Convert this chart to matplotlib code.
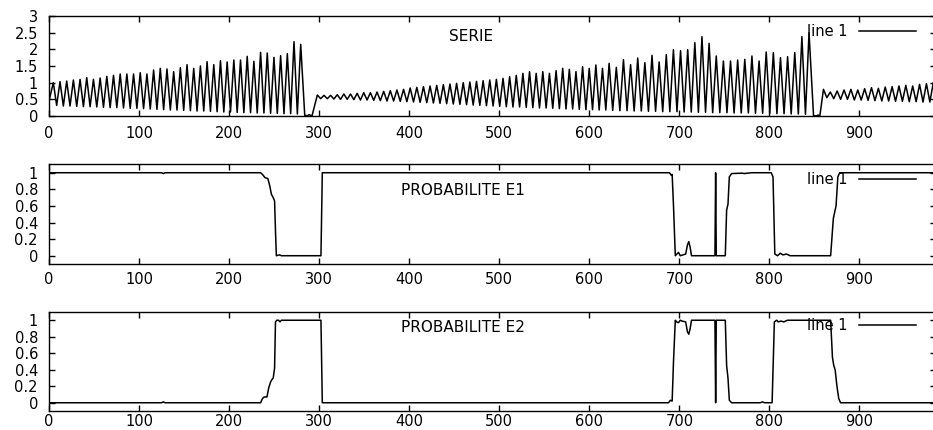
"""Three stacked panels: the observed series and the two state probabilities."""
import numpy as np
import matplotlib
matplotlib.use("Agg")
import matplotlib.pyplot as plt  # noqa: E402

plt.rcParams["font.family"] = ["DejaVu Sans"]
plt.rcParams["font.size"] = 10.5

X_MAX = 985

# --- SERIE: peak / trough levels of each oscillation, per regime ---
start_val = 0.45
seg1_span = (4.8, 279.5)
seg1_peaks = [1.00, 1.03, 1.05, 1.08, 1.10, 1.15, 1.10, 1.14, 1.19, 1.22,
              1.26, 1.26, 1.26, 1.30, 1.26, 1.38, 1.43, 1.41, 1.33, 1.45,
              1.54, 1.43, 1.50, 1.63, 1.54, 1.66, 1.62, 1.68, 1.68, 1.79,
              1.64, 1.91, 1.89, 1.76, 1.81, 1.87, 2.23, 2.15]
seg1_troughs = [0.32, 0.30, 0.30, 0.29, 0.28, 0.28, 0.27, 0.26, 0.25, 0.25,
                0.24, 0.23, 0.23, 0.22, 0.21, 0.20, 0.19, 0.18, 0.18, 0.17,
                0.16, 0.15, 0.15, 0.14, 0.13, 0.12, 0.12, 0.11, 0.10, 0.10,
                0.09, 0.09, 0.08, 0.08, 0.07, 0.07, 0.06]
gap1_x = [284, 287, 289, 292]
gap1_y = [0.02, 0.01, 0.04, 0.0]

seg2_span = (298, 622)
seg2_peaks = [0.63, 0.62, 0.62, 0.64, 0.66, 0.66, 0.68, 0.70, 0.70, 0.72,
              0.74, 0.76, 0.78, 0.80, 0.84, 0.86, 0.88, 0.90, 0.92, 0.94,
              0.96, 0.98, 1.00, 1.02, 1.04, 1.06, 1.08, 1.10, 1.13, 1.18,
              1.22, 1.28, 1.33, 1.28, 1.33, 1.28, 1.36, 1.43, 1.40, 1.33,
              1.48, 1.43, 1.53, 1.43, 1.58]
seg2_troughs = [0.52, 0.52, 0.51, 0.50, 0.50, 0.49, 0.48, 0.48, 0.47, 0.46,
                0.45, 0.45, 0.44, 0.43, 0.42, 0.41, 0.40, 0.39, 0.38, 0.37,
                0.36, 0.35, 0.34, 0.33, 0.32, 0.31, 0.30, 0.29, 0.28, 0.27,
                0.27, 0.26, 0.25, 0.24, 0.24, 0.23, 0.22, 0.21, 0.21, 0.20,
                0.19, 0.19, 0.18, 0.18]
gap2_x = [626]
gap2_y = [0.17]

seg3_span = (630, 844)
seg3_peaks = [1.46, 1.69, 1.54, 1.74, 1.60, 1.82, 1.62, 1.84, 1.99, 1.96,
              1.99, 2.20, 2.38, 2.18, 1.80, 1.65, 1.65, 1.68, 1.70, 1.80,
              1.65, 1.92, 1.90, 1.75, 1.78, 1.90, 2.38, 2.50]
seg3_troughs = [0.16, 0.16, 0.15, 0.15, 0.14, 0.14, 0.13, 0.13, 0.13, 0.12,
                0.12, 0.11, 0.11, 0.10, 0.10, 0.10, 0.09, 0.09, 0.09, 0.08,
                0.08, 0.08, 0.07, 0.07, 0.06, 0.06, 0.05]
gap3_x = [849, 852, 854, 856]
gap3_y = [0.01, 0.0, 0.03, 0.0]

seg4_span = (860, 982)
seg4_peaks = [0.80, 0.72, 0.75, 0.78, 0.80, 0.78, 0.82, 0.85, 0.83, 0.87,
              0.88, 0.90, 0.92, 0.90, 0.95, 0.97, 1.00]
seg4_troughs = [0.55, 0.52, 0.50, 0.50, 0.48, 0.48, 0.47, 0.46, 0.45, 0.45,
                0.44, 0.44, 0.43, 0.43, 0.42, 0.42]
end_val = 0.60

# --- PROBABILITE E1 / E2 (index, probability) ---
e1_x = [0, 125, 127, 129, 235, 237, 240, 243, 245, 247, 249, 250.5, 251.5,
        252.5, 256, 258, 302, 303.5, 689, 691, 692, 693.5, 695.5, 699, 701,
        707, 709, 710.5, 712, 713.5, 739.5, 740.3, 741, 751, 752.5, 754,
        755.5, 758, 770, 772, 780, 802, 804, 806, 809, 812, 815, 819, 823,
        868, 871, 873, 874, 876, 878, 985]
e1_y = [1, 1, 0.99, 1, 1, 0.98, 0.94, 0.93, 0.85, 0.74, 0.70, 0.66, 0.30,
        0.0, 0.01, 0.0, 0.0, 1.0, 1.0, 0.97, 0.98, 0.6, 0.0, 0.04, 0.0,
        0.02, 0.13, 0.17, 0.10, 0.0, 0.0, 1.0, 0.0, 0.0, 0.55, 0.62,
        0.95, 0.99, 0.995, 0.99, 1.0, 1.0, 0.95, 0.02, 0.0, 0.03, 0.01, 0.02, 0.0,
        0.0, 0.45, 0.55, 0.6, 0.95, 1.0, 1.0]

e2_x = [0, 125, 127, 129, 235, 237, 239, 242, 244, 246, 247.5, 249, 250.5,
        251.5, 253, 255, 256.5, 258, 302, 303.5, 688, 690, 692, 693.5, 695.5,
        697, 699, 701, 703, 707, 709, 710.5, 712, 713.5, 739.5, 740.3, 741,
        751, 752.5, 754, 755.5, 758, 790, 792, 795, 803, 805.5, 808, 810,
        813, 816, 820, 868, 870, 871.5, 873, 875, 877, 879, 985]
e2_y = [0, 0, 0.01, 0, 0, 0.05, 0.07, 0.07, 0.18, 0.25, 0.28, 0.30, 0.42,
        0.98, 1.0, 1.0, 0.98, 1.0, 1.0, 0.0, 0.0, 0.03, 0.02, 0.5, 1.0,
        0.98, 0.97, 1.0, 0.99, 0.98, 0.86, 0.83, 0.9, 1.0, 1.0, 0.0, 1.0,
        1.0, 0.45, 0.3, 0.03, 0.0, 0.0, 0.01, 0.0, 0.0, 0.98, 1.0, 0.98,
        0.99, 0.98, 1.0, 1.0, 0.55, 0.45, 0.4, 0.2, 0.05, 0.0, 0.0]


def _oscillation(span, peaks, troughs):
    """Alternate peak / trough vertices across one regime."""
    px = np.linspace(span[0], span[1], len(peaks))
    tx = (px[:-1] + px[1:]) / 2
    xs, ys = [], []
    for i, p in enumerate(peaks):
        xs.append(px[i]); ys.append(p)
        if i < len(troughs):
            xs.append(tx[i]); ys.append(troughs[i])
    return xs, ys


def serie():
    xs, ys = [0], [start_val]
    for span, pk, tr, gx, gy in [(seg1_span, seg1_peaks, seg1_troughs, gap1_x, gap1_y),
                                 (seg2_span, seg2_peaks, seg2_troughs, gap2_x, gap2_y),
                                 (seg3_span, seg3_peaks, seg3_troughs, gap3_x, gap3_y),
                                 (seg4_span, seg4_peaks, seg4_troughs, [], [])]:
        a, b = _oscillation(span, pk, tr)
        xs += a + gx; ys += b + gy
    xs.append(X_MAX); ys.append(end_val)
    return xs, ys


def _style(ax, yticks, ylim, xpad, legend_y):
    ax.set_xlim(0, X_MAX)
    ax.set_ylim(*ylim)
    ax.set_xticks(range(0, 1000, 100))
    ax.set_yticks(yticks)
    ax.set_yticklabels([f"{t:g}" for t in yticks])
    ax.tick_params(direction="in", top=True, right=True, length=4, width=1)
    ax.tick_params(axis="x", pad=xpad)
    ax.tick_params(axis="y", pad=8)
    for s in ax.spines.values():
        s.set_linewidth(1.0)
    ax.legend(loc="upper right", bbox_to_anchor=(0.977, legend_y), markerfirst=False,
              frameon=False, handlelength=3.9, handletextpad=0.8,
              borderaxespad=0, borderpad=0)


fig = plt.figure(figsize=(9.33, 4.30), dpi=100)
w = 887 / 933
ax1 = fig.add_axes([49 / 933, 0.7302, w, 100 / 430])
ax2 = fig.add_axes([49 / 933, 0.3860, w, 100 / 430])
ax3 = fig.add_axes([49 / 933, 0.0442, w, 99 / 430])

sx, sy = serie()
ax1.plot(sx, sy, color="black", lw=1.1, label="line 1")
_style(ax1, [0, 0.5, 1, 1.5, 2, 2.5, 3], (0, 3), 7.5, 0.92)
ax1.text(0.476, 0.80, "SERIE", transform=ax1.transAxes, ha="center", va="center",
         fontsize=11)

ax2.plot(e1_x, e1_y, color="black", lw=1.1, label="line 1")
_style(ax2, [0, 0.2, 0.4, 0.6, 0.8, 1], (-0.1, 1.105), 5.5, 0.92)
ax2.text(0.467, 0.74, "PROBABILITE E1", transform=ax2.transAxes, ha="center",
         va="center", fontsize=11)

ax3.plot(e2_x, e2_y, color="black", lw=1.1, label="line 1")
_style(ax3, [0, 0.2, 0.4, 0.6, 0.8, 1], (-0.1, 1.1), 2.5, 0.94)
ax3.text(0.467, 0.84, "PROBABILITE E2", transform=ax3.transAxes, ha="center",
         va="center", fontsize=11)

fig.savefig("out.png", dpi=100)
